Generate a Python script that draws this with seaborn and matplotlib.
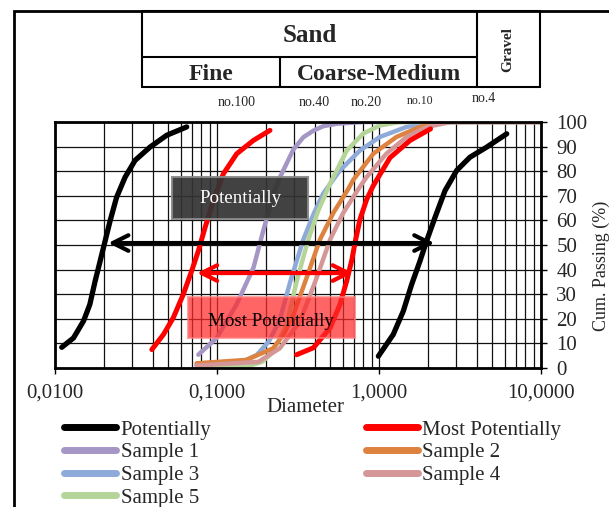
import numpy as np
import pandas as pd
import seaborn as sns
import matplotlib
matplotlib.use("Agg")
import matplotlib.pyplot as plt
from matplotlib.ticker import LogLocator, FixedLocator, NullFormatter
from matplotlib.lines import Line2D
from matplotlib.patches import Rectangle

# ---------------- data ----------------
pot_left_x = [0.0110, 0.0130, 0.0150, 0.0164, 0.0177, 0.0190, 0.0204, 0.0219, 0.0240,
              0.0271, 0.0312, 0.0386, 0.0489, 0.0650]
pot_left_y = [8.4, 12.2, 19.1, 25.8, 35.4, 43.5, 51.7, 59.9, 69.4, 77.6, 84.4, 89.8, 94.6, 98.0]
pot_right_x = [0.991, 1.224, 1.412, 1.591, 1.791, 1.968, 2.217, 2.556, 3.017, 3.646, 4.624, 6.143]
pot_right_y = [4.8, 13.6, 23.1, 34.0, 43.5, 51.7, 61.2, 72.1, 80.3, 85.7, 89.8, 95.2]

most_left_x = [0.0396, 0.0467, 0.0537, 0.0619, 0.0698, 0.0767, 0.0844, 0.0949, 0.1094,
               0.1324, 0.1676, 0.2123]
most_left_y = [7.5, 13.6, 20.4, 29.9, 39.5, 47.6, 57.1, 68.0, 78.9, 87.1, 92.5, 96.6]
most_right_x = [0.310, 0.393, 0.499, 0.574, 0.632, 0.680, 0.711, 0.763, 0.839, 0.920, 1.01,
                1.17, 1.554, 2.08]
most_right_y = [5.4, 8.2, 16.3, 25.8, 35.4, 44.0, 50.9, 60.4, 68.5, 74.0, 78.5, 85.5, 92.5, 97.2]

s1_x = [0.0767, 0.0995, 0.132, 0.168, 0.193, 0.223, 0.245, 0.296, 0.341, 0.394, 0.453, 0.55,
        0.8, 10.0]
s1_y = [5.4, 12.2, 25.8, 40.8, 55.8, 70.7, 77.6, 88.8, 93.8, 96.5, 98.3, 99.3, 100.0, 100.0]
s2_x = [0.0748, 0.152, 0.222, 0.26, 0.296, 0.357, 0.432, 0.523, 0.645, 0.694, 0.922, 1.28,
        1.79, 2.6, 10.0]
s2_y = [1.9, 3.3, 8.0, 14.0, 21.6, 36.6, 52.2, 63.1, 72.7, 76.5, 87.1, 93.9, 98.0, 100.0, 100.0]
s3_x = [0.0748, 0.14, 0.176, 0.21, 0.244, 0.283, 0.341, 0.394, 0.453, 0.574, 0.762, 1.01,
        1.48, 1.97, 2.5, 10.0]
s3_y = [1.2, 2.2, 5.3, 11.0, 19.5, 35.0, 52.2, 62.5, 71.0, 80.3, 88.4, 93.9, 98.0, 99.3,
        100.0, 100.0]
s4_x = [0.0748, 0.18, 0.244, 0.325, 0.412, 0.499, 0.602, 0.745, 0.839, 1.11, 1.48, 1.97,
        2.8, 10.0]
s4_y = [1.0, 2.5, 8.0, 18.9, 36.6, 52.2, 63.1, 72.7, 77.6, 87.1, 93.9, 98.0, 100.0, 100.0]
s5_x = [0.0748, 0.152, 0.19, 0.212, 0.24, 0.269, 0.31, 0.341, 0.366, 0.422, 0.499, 0.632,
        0.8, 1.01, 1.35, 10.0]
s5_y = [0.3, 0.5, 2.5, 5.3, 11.0, 18.0, 35.0, 45.0, 52.2, 64.0, 75.0, 88.4, 95.3, 98.6,
        100.0, 100.0]

y_ticks = [0, 10, 20, 30, 40, 50, 60, 70, 80, 90, 100]
x_ticks = [0.01, 0.1, 1.0, 10.0]
x_tick_labels = ["0,0100", "0,1000", "1,0000", "10,0000"]
sieve_labels = ["no.100", "no.40", "no.20", "no.10", "no.4"]

# ---------------- style ----------------
sns.set_style("white")
plt.rcParams["font.family"] = ["Liberation Serif", "DejaVu Serif"]

W, H = 609, 507
fig = plt.figure(figsize=(W / 100, H / 100), dpi=100)

def fx(px):
    return px / W

def fy(py):
    return 1 - py / H

ax_l, ax_r, ax_t, ax_b = 55, 541, 122, 368
ax = fig.add_axes([fx(ax_l), fy(ax_b), fx(ax_r - ax_l), (ax_b - ax_t) / H])

black = "#000000"
red = "#ff0000"
col_s1 = "#a696c6"
col_s2 = "#de8240"
col_s3 = "#8eaad9"
col_s4 = "#d49696"
col_s5 = "#b5d498"

series = [
    (s1_x, s1_y, col_s1, 3.2),
    (s3_x, s3_y, col_s3, 3.2),
    (s5_x, s5_y, col_s5, 3.2),
    (s2_x, s2_y, col_s2, 3.2),
    (s4_x, s4_y, col_s4, 3.2),
    (most_left_x, most_left_y, red, 3.6),
    (most_right_x, most_right_y, red, 3.6),
    (pot_left_x, pot_left_y, black, 3.8),
    (pot_right_x, pot_right_y, black, 3.8),
]
for xs, ys, c, lw in series:
    df = pd.DataFrame({"d": xs, "p": ys})
    sns.lineplot(data=df, x="d", y="p", sort=False, estimator=None, ax=ax,
                 color=c, lw=lw, solid_capstyle="round", solid_joinstyle="round")

ax.set_xscale("log")
ax.set_xlim(0.01, 10)
ax.set_ylim(0, 100)
ax.xaxis.set_major_locator(FixedLocator(x_ticks))
ax.xaxis.set_minor_locator(LogLocator(base=10, subs=np.arange(2, 10)))
ax.xaxis.set_minor_formatter(NullFormatter())
ax.set_xticks(x_ticks)
ax.set_xticklabels(x_tick_labels)
ax.set_yticks(y_ticks)
ax.yaxis.tick_right()
ax.yaxis.set_label_position("right")
ax.grid(which="major", color="#111111", lw=0.9)
ax.grid(which="minor", axis="x", color="#111111", lw=0.9)
ax.tick_params(axis="x", which="major", length=4, width=1, labelsize=15, pad=7, color="black", bottom=True)
ax.tick_params(axis="x", which="minor", length=0)
ax.tick_params(axis="y", length=4, width=1, labelsize=15, pad=7, right=True, color="black")
for s in ax.spines.values():
    s.set_color("black")
    s.set_linewidth(2)
ax.set_xlabel("Diameter", fontsize=15, labelpad=-3)
ax.xaxis.set_label_coords((305 - ax_l) / (ax_r - ax_l), -(407 - ax_b) / (ax_b - ax_t))
ax.set_ylabel("Cum. Passing (%)", fontsize=13)
ax.yaxis.set_label_coords((601 - ax_l) / (ax_r - ax_l), (ax_b - 266) / (ax_b - ax_t))
ax.xaxis.label.set_va("center")
ax.yaxis.label.set_va("center")

# arrows
ax.annotate("", xy=(0.0213, 50.8), xytext=(2.2, 50.8),
            arrowprops=dict(arrowstyle="<->", lw=3, color="black", mutation_scale=28,
                            shrinkA=0, shrinkB=0))
ax.annotate("", xy=(0.0752, 38.6), xytext=(0.69, 38.6),
            arrowprops=dict(arrowstyle="<->", lw=3, color=red, mutation_scale=28,
                            shrinkA=0, shrinkB=0))

# annotation boxes
ax.add_patch(Rectangle((0.0527, 60.4), 0.365 - 0.0527, 17.2, facecolor="#333333",
                       edgecolor="#888888", lw=1.5, alpha=0.93, zorder=5))
ax.text(0.139, 69, "Potentially", color="white", fontsize=13.7, ha="center", va="center", zorder=6)
ax.add_patch(Rectangle((0.0662, 12.2), 0.711 - 0.0662, 16.8, facecolor="#ff2a2a",
                       edgecolor="#ff8080", lw=1.5, alpha=0.72, zorder=5))
ax.text(0.215, 18.8, "Most Potentially", color="black", fontsize=13.7, ha="center", va="center", zorder=6)

# ---------------- header table ----------------
def fline(x0, y0, x1, y1, lw=1.5):
    fig.add_artist(Line2D([fx(x0), fx(x1)], [fy(y0), fy(y1)], color="black", lw=lw))

fline(142, 11, 540, 11)
fline(142, 57, 477, 57)
fline(142, 87, 540, 87)
fline(142, 11, 142, 87)
fline(477, 11, 477, 87)
fline(540, 11, 540, 87)
fline(280, 57, 280, 87)
fig.text(fx(310), fy(35), "Sand", fontsize=18, fontweight="bold", ha="center", va="center")
fig.text(fx(211), fy(74), "Fine", fontsize=17, fontweight="bold", ha="center", va="center")
fig.text(fx(379), fy(74), "Coarse-Medium", fontsize=17, fontweight="bold", ha="center", va="center")
fig.text(fx(508), fy(49), "Gravel", fontsize=11, fontweight="bold", ha="center", va="center", rotation=90)

sieve_pos = [(237, 102, 10), (314, 102, 10), (366, 102, 10), (420, 101, 8.5), (484, 99, 10)]
for lab, (px, py, fs) in zip(sieve_labels, sieve_pos):
    fig.text(fx(px), fy(py), lab, fontsize=fs, ha="center", va="center")

# figure border
fig.add_artist(Rectangle((fx(14), fy(530)), fx(615 - 14), (530 - 11) / H, fill=False,
                         edgecolor="black", lw=2))

# ---------------- legend ----------------
def h(c):
    return Line2D([], [], color=c, lw=5, solid_capstyle="round")

handles = [h(black), h(col_s1), h(col_s3), h(col_s5), h(red), h(col_s2), h(col_s4)]
labels = ["Potentially", "Sample 1", "Sample 3", "Sample 5", "Most Potentially", "Sample 2", "Sample 4"]
fig.legend(handles, labels, loc="upper left", bbox_to_anchor=(fx(64), fy(420)), ncol=2,
           frameon=False, fontsize=15, handlelength=2.5, handletextpad=0.22,
           columnspacing=7.4, labelspacing=0.15, borderpad=0, borderaxespad=0)

fig.savefig("out.png", dpi=100)
